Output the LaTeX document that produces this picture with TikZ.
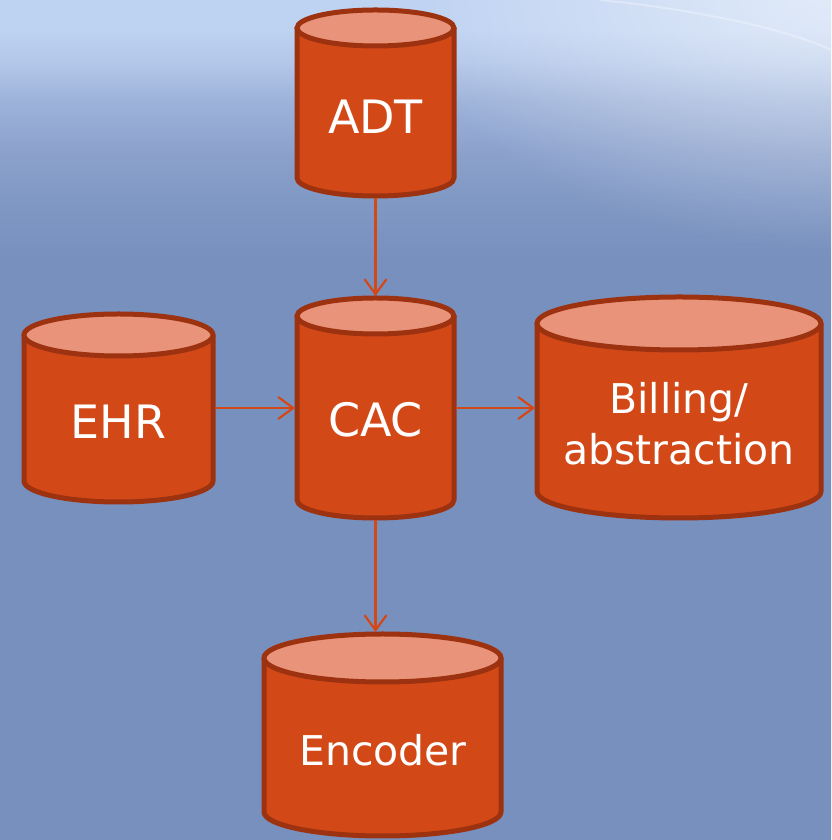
\documentclass[tikz,border=0pt]{standalone}
\usepackage{fontspec}
\setmainfont{DejaVu Sans}
\usetikzlibrary{arrows.meta,fadings}

\definecolor{bodyfill}{HTML}{D34817}
\definecolor{facefill}{HTML}{E8937A}
\definecolor{rimline}{HTML}{9C3210}
\definecolor{bgtop}{HTML}{BED2F2}
\definecolor{bgA}{HTML}{B4C8EA}
\definecolor{bgB}{HTML}{9EB3DA}
\definecolor{bgC}{HTML}{8CA2CD}
\definecolor{bgD}{HTML}{8098C4}
\definecolor{bgbot}{HTML}{7790BE}

% the path's box maps onto 25bp..75bp of the shading
\pgfdeclareverticalshading{backdrop}{100bp}{%
  color(0bp)=(bgbot); color(59.5bp)=(bgbot); color(63.1bp)=(bgD);
  color(66.1bp)=(bgC); color(69.05bp)=(bgB); color(71.4bp)=(bgA);
  color(73.2bp)=(bgtop); color(100bp)=(bgtop)}

\tikzfading[name=glowfade, inner color=transparent!0, outer color=transparent!100]

\tikzset{
  flow/.style={draw=bodyfill, line width=2.2pt,
    -{Straight Barb[length=15pt,width=22pt,line width=2.2pt]}},
  label/.style={text=white, align=center},
  anchorbox/.style={inner sep=0pt, outer sep=0pt, rectangle},
}

% \dbcyl{name}{cx}{ytop}{ybot}{rx}{ry}: a database cylinder with a named
% rectangular node covering its outline
\newcommand\dbcyl[6]{%
  \fill[bodyfill] (#2-#5,#3) -- (#2-#5,#4)
    arc[start angle=180, end angle=360, x radius=#5, y radius=#6]
    -- (#2+#5,#3) -- cycle;
  \draw[rimline, line width=5pt, line join=round] (#2-#5,#3) -- (#2-#5,#4)
    arc[start angle=180, end angle=360, x radius=#5, y radius=#6]
    -- (#2+#5,#3);
  \draw[rimline, line width=5pt, fill=facefill] (#2,#3)
    ellipse[x radius=#5, y radius=#6];
  \node[anchorbox, minimum width=2*#5+4, minimum height=#3-#4+2*#6+4]
    (#1) at (#2,{(#3+#4)/2}) {};
}

\begin{document}
\begin{tikzpicture}[x=1pt, y=1pt]
  \useasboundingbox (0,0) rectangle (831,840);
  \shade[shading=backdrop] (0,0) rectangle (831,840);
  % soft glow in the upper right corner
  \begin{scope}
    \clip (0,0) rectangle (831,840);
    \fill[white, opacity=0.55, path fading=glowfade]
      (831,850) ellipse[x radius=430, y radius=260];
    \draw[white, opacity=0.3, line width=2pt]
      (600,840) .. controls (700,830) and (790,810) .. (831,790);
  \end{scope}

  \dbcyl{adt}{375.5}{812}{662}{78.5}{18}
  \dbcyl{cac}{375.5}{524}{340}{78.5}{18}
  \dbcyl{ehr}{118.5}{505}{359}{94.5}{21}
  \dbcyl{bill}{679}{516.5}{348.5}{142}{26.5}
  \dbcyl{enc}{382.5}{182}{28}{118.5}{24}

  \node[label, font=\fontsize{46}{52}\selectfont] (adtlbl) at (375.5,723) {ADT};
  \node[label, font=\fontsize{46}{52}\selectfont] (caclbl) at (375.5,420) {CAC};
  \node[label, font=\fontsize{46}{52}\selectfont] (ehrlbl) at (118.5,418) {EHR};
  \node[label, font=\fontsize{41}{51}\selectfont] (billlbl) at (679,416)
    {Billing/\\abstraction};
  \node[label, font=\fontsize{41}{50}\selectfont] (enclbl) at (383,90) {Encoder};

  \draw[flow] (adt.south) -- (cac.north);
  \draw[flow] (ehr.east |- cac) -- (cac.west);
  \draw[flow] (cac.east) -- (bill.west |- cac);
  \draw[flow] (cac.south) -- (cac.south |- enc.north);
\end{tikzpicture}
\end{document}
